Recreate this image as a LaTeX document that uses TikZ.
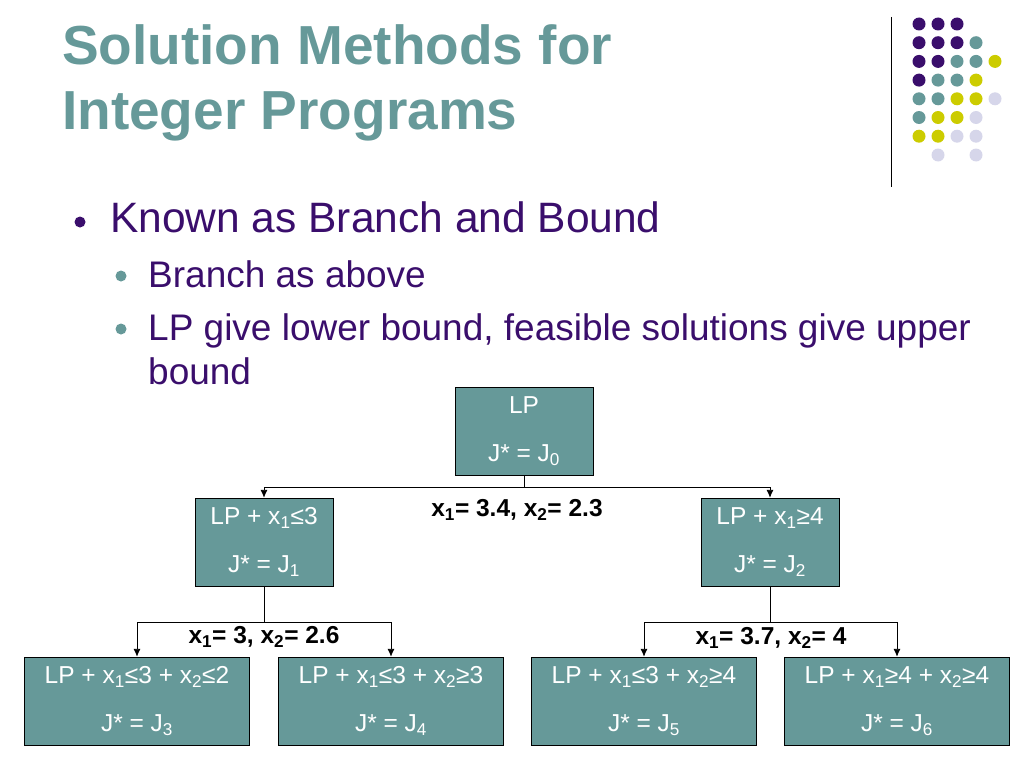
\documentclass[tikz,border=0pt]{standalone}
\usepackage{fontspec}
\setmainfont{Liberation Sans}
\usetikzlibrary{arrows.meta}
\newcommand{\dnln}[1]{\raisebox{-3pt}{#1}}
\begin{document}
\begin{tikzpicture}[x=1pt,y=-1pt,
  box/.style={draw=black,fill=teal1,text=white,minimum width=138pt,minimum height=88pt,inner sep=0pt,font=\fontsize{24.5}{26}\selectfont,align=center},
  wbox/.style={box,minimum width=225pt},
  lab/.style={font=\bfseries\fontsize{24.5}{26}\selectfont,text=black},
  conn/.style={draw=black,line width=0.9pt},
  arr/.style={conn,-{Latex[length=8pt,width=7pt]}}]
\definecolor{purp}{HTML}{3A0E6C}
\definecolor{teal1}{HTML}{669999}
\definecolor{yel}{HTML}{CCCC00}
\definecolor{lav}{HTML}{D6D6EA}
\colorlet{dP}{purp}\colorlet{dT}{teal1}\colorlet{dY}{yel}\colorlet{dL}{lav}
\useasboundingbox (0,0) rectangle (1024,768);
% title
\node[anchor=north west,text=teal1,font=\bfseries\fontsize{55}{65}\selectfont,align=left,inner sep=0pt] (title) at (62,24) {Solution Methods for\\Integer Programs};
% decoration
\draw[line width=1pt] (891,17) -- (891,187);
\foreach \r/\cols in {0/{P,P,P},1/{P,P,P,T},2/{P,P,T,T,Y},3/{P,T,T,Y},4/{T,T,Y,Y,L},5/{T,Y,Y,L},6/{Y,Y,L,L}}{
  \foreach \c [count=\i from 0] in \cols {
    \fill[d\c] (919+19*\i,24+18.7*\r) circle (6.5);
  }
}
\fill[lav] (938,155) circle (6.5);
\fill[lav] (976,155) circle (6.5);
% bullets
\fill[purp] (80,222) circle (5.5);
\node[anchor=base west,text=purp,font=\fontsize{42.5}{44}\selectfont,inner sep=0pt] (b1) at (110,232) {Known as Branch and Bound};
\fill[teal1] (121,276) circle (5.5);
\node[anchor=base west,text=purp,font=\fontsize{37}{44}\selectfont,inner sep=0pt] (b2) at (148,287) {Branch as above};
\fill[teal1] (121,329) circle (5.5);
\node[anchor=base west,text=purp,font=\fontsize{37}{44}\selectfont,inner sep=0pt] (b3) at (148,340) {LP give lower bound, feasible solutions give upper};
\node[anchor=base west,text=purp,font=\fontsize{37}{44}\selectfont,inner sep=0pt] (b4) at (148,384) {bound};
% boxes
\node[box] (n0) at (524,431) {\dnln{LP}\\[22pt]\dnln{J* = J\textsubscript{0}}};
\node[box] (n1) at (264,542) {\dnln{LP + x\textsubscript{1}≤3}\\[22pt]\dnln{J* = J\textsubscript{1}}};
\node[box] (n2) at (770,542) {\dnln{LP + x\textsubscript{1}≥4}\\[22pt]\dnln{J* = J\textsubscript{2}}};
\node[wbox] (n3) at (137,701) {\dnln{LP + x\textsubscript{1}≤3 + x\textsubscript{2}≤2}\\[22pt]\dnln{J* = J\textsubscript{3}}};
\node[wbox] (n4) at (391,701) {\dnln{LP + x\textsubscript{1}≤3 + x\textsubscript{2}≥3}\\[22pt]\dnln{J* = J\textsubscript{4}}};
\node[wbox] (n5) at (644,701) {\dnln{LP + x\textsubscript{1}≤3 + x\textsubscript{2}≥4}\\[22pt]\dnln{J* = J\textsubscript{5}}};
\node[wbox] (n6) at (897,701) {\dnln{LP + x\textsubscript{1}≥4 + x\textsubscript{2}≥4}\\[22pt]\dnln{J* = J\textsubscript{6}}};
% connectors
\coordinate (j0) at (524,487);
\coordinate (j1) at (264,622);
\coordinate (j2) at (770,622);
\draw[conn] (n0.south) -- (j0);
\draw[arr] (j0) -| (n1.north);
\draw[arr] (j0) -| (n2.north);
\draw[conn] (n1.south) -- (j1);
\draw[arr] (j1) -| (n3.north);
\draw[arr] (j1) -| (n4.north);
\draw[conn] (n2.south) -- (j2);
\draw[arr] (j2) -| (n5.north);
\draw[arr] (j2) -| (n6.north);
\node[lab] (l0) at (517,510) {x\textsubscript{1}= 3.4, x\textsubscript{2}= 2.3};
\node[lab] (l1) at (264,637) {x\textsubscript{1}= 3, x\textsubscript{2}= 2.6};
\node[lab] (l2) at (771,638) {x\textsubscript{1}= 3.7, x\textsubscript{2}= 4};
\end{tikzpicture}
\end{document}
